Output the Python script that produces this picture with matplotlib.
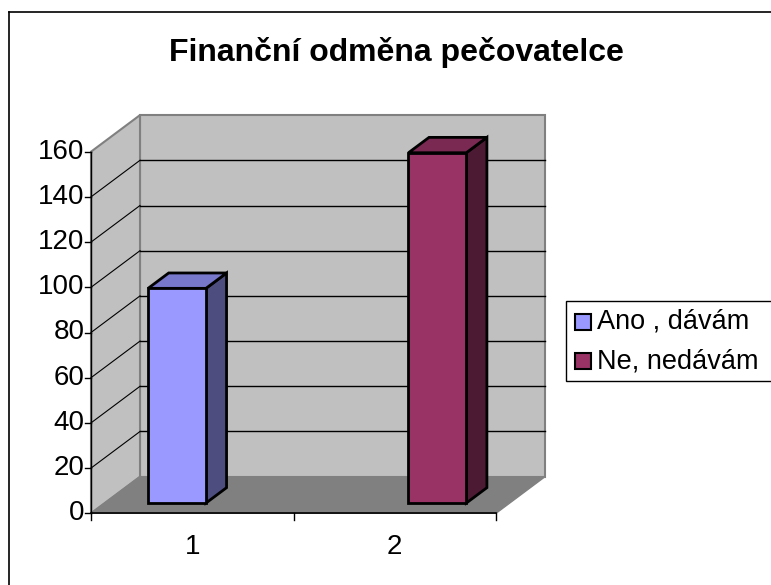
import matplotlib
matplotlib.use("Agg")
import matplotlib.pyplot as plt
from matplotlib.patches import Polygon, Rectangle
from matplotlib.lines import Line2D

plt.rcParams['font.family'] = ['Liberation Sans', 'DejaVu Sans']

# ---- data ----
title = "Finanční odměna pečovatelce"
categories = ["1", "2"]
series_names = ["Ano , dávám", "Ne, nedávám"]
ano_values = [95, 0]
ne_values = [0, 155]
y_ticks = [0, 20, 40, 60, 80, 100, 120, 140, 160]

# ---- styles ----
front_cols = ["#9999FF", "#993366"]
side_cols = ["#4D4D80", "#4D1A33"]
top_cols = ["#7777CC", "#7A2952"]
W, H = 771, 585
fig = plt.figure(figsize=(W / 100, H / 100), dpi=100)

# axes placed so front plane matches the reference
x0p, x1p = 91, 496
y0p, y1p = 513.3, 151.7
ax = fig.add_axes([x0p / W, 1 - y0p / H, (x1p - x0p) / W, (y0p - y1p) / H])
ax.set_xlim(0.5, 2.5)
ax.set_ylim(0, 160)
ax.axis("off")

px_per_x = (x1p - x0p) / 2.0
px_per_y = (y0p - y1p) / 160.0
DX = 49 / px_per_x
DY = 36.6 / px_per_y
ymax = y_ticks[-1]

def P(x, y, d):
    return (x + d * DX, y + d * DY)

# walls & floor
back = Polygon([P(0.5, 0, 1), P(2.5, 0, 1), P(2.5, ymax, 1), P(0.5, ymax, 1)],
               closed=True, fc="#C0C0C0", ec="#808080", lw=1.5, clip_on=False, zorder=1)
side = Polygon([P(0.5, 0, 0), P(0.5, 0, 1), P(0.5, ymax, 1), P(0.5, ymax, 0)],
               closed=True, fc="#C0C0C0", ec="#808080", lw=1.5, clip_on=False, zorder=1)
floor = Polygon([P(0.5, 0, 0), P(2.5, 0, 0), P(2.5, 0, 1), P(0.5, 0, 1)],
                closed=True, fc="#808080", ec="#808080", lw=1, clip_on=False, zorder=1)
for p in (back, side, floor):
    ax.add_patch(p)

# gridlines
for t in y_ticks[1:-1]:
    ax.add_line(Line2D([P(0.5, t, 1)[0], P(2.5, t, 1)[0]], [P(0.5, t, 1)[1]] * 2,
                       color="black", lw=1, clip_on=False, zorder=2))
    ax.add_line(Line2D([0.5, P(0.5, t, 1)[0]], [t, P(0.5, t, 1)[1]],
                       color="black", lw=0.8, clip_on=False, zorder=2))

# axes lines and ticks
ax.add_line(Line2D([0.5, 0.5], [0, ymax], color="black", lw=1, clip_on=False, zorder=5))
ax.add_line(Line2D([0.5, 2.5], [0, 0], color="black", lw=1.2, clip_on=False, zorder=5))
tl_x = 6 / px_per_x
tl_y = 7 / px_per_y
for t in y_ticks:
    ax.add_line(Line2D([0.5 - tl_x, 0.5], [t, t], color="black", lw=1, clip_on=False, zorder=5))
    ax.text(0.5 - tl_x - 0.5 / px_per_x, t, str(t), ha="right", va="center", fontsize=20)
for xt in [0.5, 1.5, 2.5]:
    ax.add_line(Line2D([xt, xt], [0, -tl_y], color="black", lw=1, clip_on=False, zorder=5))
for i, c in enumerate(categories):
    ax.text(i + 1, -15, c, ha="center", va="center", fontsize=20)

# bars (clustered, gap width 150%)
w = 1 / 3.5
gap = 0.75 * w
d0, d1 = 0.28, 0.70
all_vals = [ano_values, ne_values]
for s, vals in enumerate(all_vals):
    for i, v in enumerate(vals):
        if v <= 0:
            continue
        L = (i + 1) - 0.5 + gap + s * w
        R = L + w
        kw = dict(closed=True, ec="black", lw=2, clip_on=False, zorder=4, joinstyle="miter")
        ax.add_patch(Polygon([P(R, 0, d0), P(R, 0, d1), P(R, v, d1), P(R, v, d0)],
                             fc=side_cols[s], **kw))
        ax.add_patch(Polygon([P(L, v, d0), P(R, v, d0), P(R, v, d1), P(L, v, d1)],
                             fc=top_cols[s], **kw))
        ax.add_patch(Polygon([P(L, 0, d0), P(R, 0, d0), P(R, v, d0), P(L, v, d0)],
                             fc=front_cols[s], **kw))

# title
fig.text(396 / W, 1 - 53 / H, title, ha="center", va="center", fontsize=23, fontweight="bold")

# chart border (top & left visible)
fig.add_artist(Line2D([9 / W, 1.0], [1 - 12 / H, 1 - 12 / H], transform=fig.transFigure,
                      color="black", lw=1.2))
fig.add_artist(Line2D([9 / W, 9 / W], [0, 1 - 12 / H], transform=fig.transFigure,
                      color="black", lw=1.2))

# legend box
fig.add_artist(Rectangle((566 / W, 1 - 380.7 / H), (W + 5 - 566) / W, 80 / H,
                         transform=fig.transFigure, fc="white", ec="black", lw=1, clip_on=False))
for s, name in enumerate(series_names):
    yc = 321.5 + s * 39.5
    fig.add_artist(Rectangle((575 / W, 1 - (yc + 8) / H), 16 / W, 16 / H,
                             transform=fig.transFigure, fc=front_cols[s], ec="black", lw=1.5))
    fig.text(597 / W, 1 - yc / H, name, ha="left", va="center", fontsize=19.5)

fig.savefig("out.png", dpi=100)
